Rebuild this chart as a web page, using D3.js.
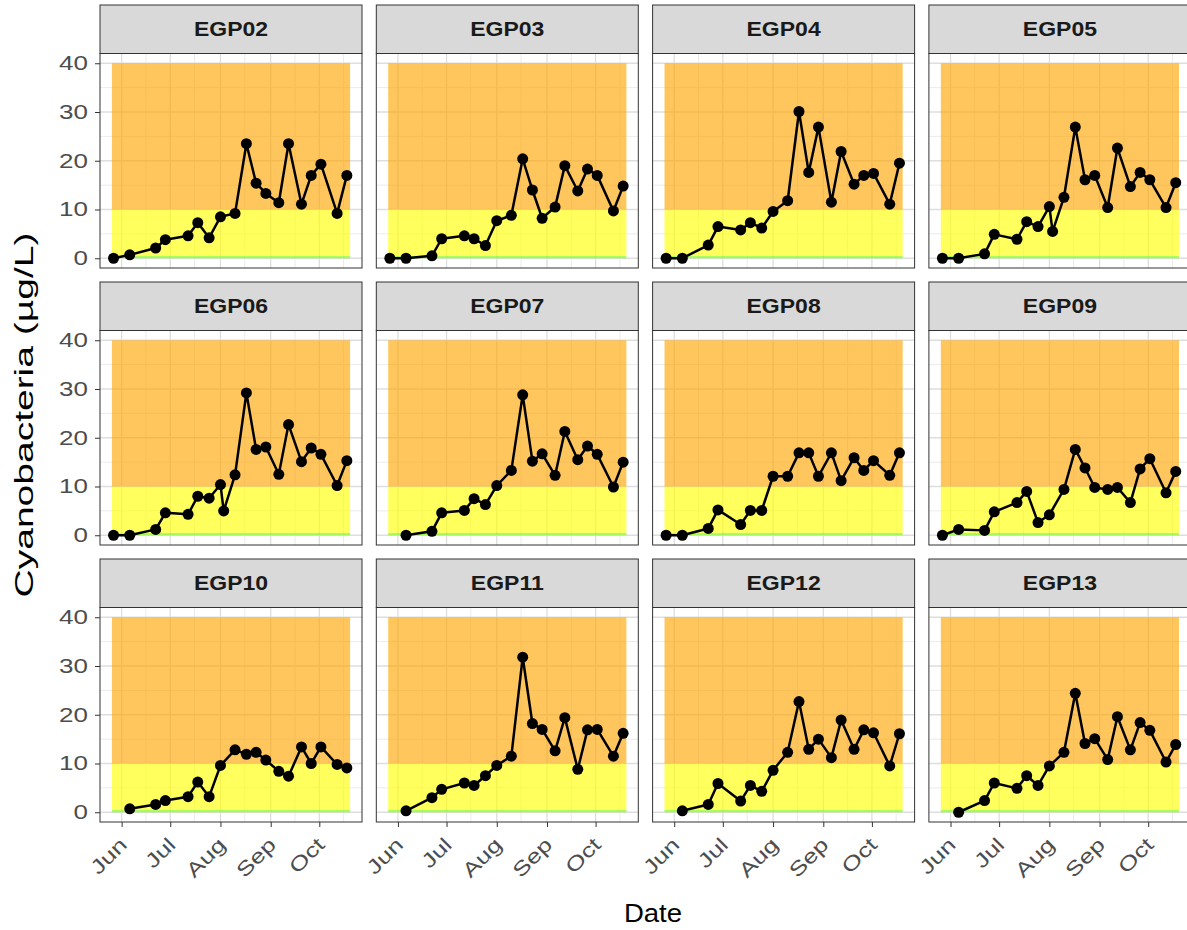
<!DOCTYPE html>
<html>
<head>
<meta charset="utf-8">
<script src="https://cdn.jsdelivr.net/npm/d3@7"></script>
<style>
    body { margin: 0; background: #ffffff; }
    text { font-family: "Liberation Sans", Arial, sans-serif; }
</style>
</head>
<body>
<div id="chart"></div>
<script>

// sites (facets), in reading order
const sites = ["EGP02", "EGP03", "EGP04", "EGP05", "EGP06", "EGP07",
               "EGP08", "EGP09", "EGP10", "EGP11", "EGP12", "EGP13"];

// sampling dates shared by all sites (null = not sampled)
const sampleDates = ["2019-05-27", "2019-06-06", "2019-06-22", "2019-06-28", "2019-07-12",
                     "2019-07-18", "2019-07-25", "2019-08-01", "2019-08-03", "2019-08-10",
                     "2019-08-17", "2019-08-23", "2019-08-29", "2019-09-06", "2019-09-12",
                     "2019-09-20", "2019-09-26", "2019-10-02", "2019-10-12", "2019-10-18"];

// cyanobacteria, ug/L
const egp02 = [0, 0.7, 2.1, 3.8, 4.6, 7.3, 4.2, 8.5, null, 9.2, 23.5, 15.4, 13.3, 11.4, 23.5, 11.1, 17, 19.3, 9.2, 17];
const egp03 = [0, 0, 0.5, 4, 4.6, 4, 2.6, 7.7, null, 8.8, 20.4, 14, 8.2, 10.5, 19, 13.8, 18.3, 17, 9.7, 14.8];
const egp04 = [0, 0, 2.7, 6.5, 5.8, 7.3, 6.2, 9.6, null, 11.8, 30.1, 17.6, 26.9, 11.5, 21.9, 15.2, 17, 17.4, 11.1, 19.5];
const egp05 = [0, 0, 0.9, 4.9, 3.9, 7.5, 6.5, 10.6, 5.5, 12.5, 26.9, 16.1, 17, 10.4, 22.6, 14.7, 17.6, 16.1, 10.4, 15.5];
const egp06 = [0, 0, 1.2, 4.6, 4.3, 8, 7.6, 10.4, 5, 12.4, 29.2, 17.6, 18.1, 12.5, 22.7, 15.1, 17.9, 16.6, 10.2, 15.3];
const egp07 = [null, 0, 0.8, 4.6, 5.1, 7.5, 6.3, 10.2, null, 13.3, 28.8, 15.2, 16.7, 12.3, 21.3, 15.5, 18.3, 16.6, 9.9, 15];
const egp08 = [0, 0, 1.4, 5.2, 2.2, 5.1, 5.1, 12.1, null, 12.1, 16.9, 16.9, 12.1, 16.9, 11.2, 15.9, 13.3, 15.3, 12.3, 16.9];
const egp09 = [0, 1.2, 1.0, 4.8, 6.7, 9, 2.6, 4.2, null, 9.4, 17.6, 13.8, 9.8, 9.4, 9.8, 6.7, 13.6, 15.7, 8.7, 13.1];
const egp10 = [null, 0.7, 1.6, 2.4, 3.2, 6.2, 3.2, 9.6, null, 12.8, 11.9, 12.3, 10.7, 8.4, 7.4, 13.4, 10, 13.4, 9.8, 9.1];
const egp11 = [null, 0.3, 3, 4.7, 6.0, 5.5, 7.5, 9.6, null, 11.5, 31.8, 18.2, 17, 12.6, 19.4, 8.8, 16.9, 17, 11.5, 16.2];
const egp12 = [null, 0.3, 1.6, 5.9, 2.3, 5.5, 4.3, 8.6, null, 12.3, 22.7, 12.9, 15, 11.2, 18.9, 12.9, 16.9, 16.3, 9.5, 16.1];
const egp13 = [null, 0, 2.4, 6, 4.9, 7.5, 5.5, 9.5, null, 12.3, 24.4, 14.1, 15.1, 10.8, 19.6, 12.8, 18.4, 16.8, 10.3, 13.9];

// alert bands (ug/L) and their date span
const bandLimits = [0, 0.5, 10, 40];
const bandSpan = ["2019-05-26", "2019-10-20"];

// axis ticks
const yTicks = [0, 10, 20, 30, 40];
const yMinorTicks = [5, 15, 25, 35];
const monthTicks = ["2019-06-01", "2019-07-01", "2019-08-01", "2019-09-01", "2019-10-01"];
const monthLabels = ["Jun", "Jul", "Aug", "Sep", "Oct"];
const midMonthTicks = ["2019-06-16", "2019-07-16", "2019-08-16", "2019-09-16", "2019-10-16"];


class FacetVis {

    constructor(_parentElement) {
        this.parentElement = _parentElement;
        this.initVis();
    }

    initVis() {
        let vis = this;

        vis.margin = {top: 5, left: 100};
        vis.panelW = 262;
        vis.panelH = 214.5;
        vis.stripH = 48.5;
        vis.gapX = 14.3;
        vis.gapY = 14;

        vis.svg = d3.select("#" + vis.parentElement).append("svg")
            .attr("width", 1187)
            .attr("height", 930);

        vis.parseDate = d3.timeParse("%Y-%m-%d");

        // ggplot style 5% expansion around the band span / 0..40
        let t0 = vis.parseDate(bandSpan[0]), t1 = vis.parseDate(bandSpan[1]);
        let pad = (t1 - t0) * 0.05;
        vis.x = d3.scaleTime()
            .domain([new Date(+t0 - pad), new Date(+t1 + pad)])
            .range([0, vis.panelW]);

        let yPad = (bandLimits[3] - bandLimits[0]) * 0.05;
        vis.y = d3.scaleLinear()
            .domain([bandLimits[0] - yPad, bandLimits[3] + yPad])
            .range([vis.panelH, 0]);

        vis.bandColors = ["#7cfc00", "#ffff00", "#ffa500"];

        vis.line = d3.line()
            .x(d => vis.x(d.date))
            .y(d => vis.y(d.value));

        // axis titles (the source font is drawn wide, hence the scale)
        vis.svg.append("text")
            .attr("transform", "translate(653,922) scale(1.06,1)")
            .attr("text-anchor", "middle")
            .attr("font-size", 26)
            .attr("fill", "#000")
            .text("Date");

        vis.svg.append("text")
            .attr("transform", "translate(33,415) rotate(-90) scale(1.5,1)")
            .attr("text-anchor", "middle")
            .attr("font-size", 26)
            .attr("fill", "#000")
            .text("Cyanobacteria (µg/L)");

        vis.wrangleData();
    }

    wrangleData() {
        let vis = this;

        let values = [egp02, egp03, egp04, egp05, egp06, egp07,
                      egp08, egp09, egp10, egp11, egp12, egp13];

        vis.displayData = sites.map((site, i) => {
            let pts = [];
            sampleDates.forEach((d, j) => {
                if (values[i][j] !== null) {
                    pts.push({date: vis.parseDate(d), value: values[i][j]});
                }
            });
            return {site: site, points: pts};
        });

        vis.updateVis();
    }

    updateVis() {
        let vis = this;

        let bands = [];
        for (let k = 0; k < bandLimits.length - 1; k++) {
            bands.push({lo: bandLimits[k], hi: bandLimits[k + 1], color: vis.bandColors[k]});
        }
        let bx0 = vis.x(vis.parseDate(bandSpan[0])), bx1 = vis.x(vis.parseDate(bandSpan[1]));

        vis.displayData.forEach((facet, i) => {
            let col = i % 4, row = Math.floor(i / 4);
            let g = vis.svg.append("g")
                .attr("transform", "translate(" + (vis.margin.left + col * (vis.panelW + vis.gapX)) + ","
                    + (vis.margin.top + row * (vis.stripH + vis.panelH + vis.gapY)) + ")");

            // strip
            g.append("rect")
                .attr("width", vis.panelW)
                .attr("height", vis.stripH)
                .attr("fill", "#d9d9d9")
                .attr("stroke", "#333")
                .attr("stroke-width", 1);

            g.append("text")
                .attr("transform", "translate(" + (vis.panelW / 2) + "," + (vis.stripH / 2) + ") scale(1.15,1)")
                .attr("dy", "0.36em")
                .attr("text-anchor", "middle")
                .attr("font-size", 20)
                .attr("font-weight", "bold")
                .attr("fill", "#1a1a1a")
                .text(facet.site);

            let p = g.append("g").attr("transform", "translate(0," + vis.stripH + ")");

            p.append("rect")
                .attr("width", vis.panelW)
                .attr("height", vis.panelH)
                .attr("fill", "#fff");

            // grid
            p.selectAll(".vminor").data(midMonthTicks).enter().append("line")
                .attr("x1", d => vis.x(vis.parseDate(d))).attr("x2", d => vis.x(vis.parseDate(d)))
                .attr("y1", 0).attr("y2", vis.panelH)
                .attr("stroke", "#ebebeb").attr("stroke-width", 1);
            p.selectAll(".hminor").data(yMinorTicks).enter().append("line")
                .attr("x1", 0).attr("x2", vis.panelW)
                .attr("y1", d => vis.y(d)).attr("y2", d => vis.y(d))
                .attr("stroke", "#ebebeb").attr("stroke-width", 1);
            p.selectAll(".vmajor").data(monthTicks).enter().append("line")
                .attr("x1", d => vis.x(vis.parseDate(d))).attr("x2", d => vis.x(vis.parseDate(d)))
                .attr("y1", 0).attr("y2", vis.panelH)
                .attr("stroke", "#dedede").attr("stroke-width", 1.3);
            p.selectAll(".hmajor").data(yTicks).enter().append("line")
                .attr("x1", 0).attr("x2", vis.panelW)
                .attr("y1", d => vis.y(d)).attr("y2", d => vis.y(d))
                .attr("stroke", "#dedede").attr("stroke-width", 1.3);

            // alert bands
            p.selectAll(".band").data(bands).enter().append("rect")
                .attr("x", bx0)
                .attr("width", bx1 - bx0)
                .attr("y", d => vis.y(d.hi))
                .attr("height", d => vis.y(d.lo) - vis.y(d.hi))
                .attr("fill", d => d.color)
                .attr("fill-opacity", 0.63);

            // series
            p.append("path")
                .datum(facet.points)
                .attr("d", vis.line)
                .attr("fill", "none")
                .attr("stroke", "#000")
                .attr("stroke-width", 2.5)
                .attr("stroke-linejoin", "round");

            p.selectAll(".pt").data(facet.points).enter().append("circle")
                .attr("cx", d => vis.x(d.date))
                .attr("cy", d => vis.y(d.value))
                .attr("r", 5.5)
                .attr("fill", "#000");

            p.append("rect")
                .attr("width", vis.panelW)
                .attr("height", vis.panelH)
                .attr("fill", "none")
                .attr("stroke", "#333")
                .attr("stroke-width", 1);

            // axes
            if (col === 0) {
                let ya = p.append("g")
                    .call(d3.axisLeft(vis.y).tickValues(yTicks).tickSize(5));
                ya.select(".domain").remove();
                ya.selectAll(".tick line").attr("stroke", "#333");
                ya.selectAll(".tick text")
                    .attr("x", 0)
                    .attr("transform", "translate(-12,0) scale(1.3,1)")
                    .attr("font-size", 20)
                    .attr("font-family", "Liberation Sans, Arial, sans-serif")
                    .attr("fill", "#4d4d4d");
            }
            if (row === 2) {
                let xa = p.append("g")
                    .attr("transform", "translate(0," + vis.panelH + ")")
                    .call(d3.axisBottom(vis.x)
                        .tickValues(monthTicks.map(vis.parseDate))
                        .tickFormat((d, k) => monthLabels[k])
                        .tickSize(5));
                xa.select(".domain").remove();
                xa.selectAll(".tick line").attr("stroke", "#333");
                xa.selectAll(".tick text")
                    .attr("font-size", 20)
                    .attr("font-family", "Liberation Sans, Arial, sans-serif")
                    .attr("fill", "#4d4d4d")
                    .attr("text-anchor", "end")
                    .attr("y", 0)
                    .attr("dy", "0.71em")
                    .attr("transform", "translate(-4,14) rotate(-45) scale(1.3,1)");
            }
        });
    }
}

new FacetVis("chart");

</script>
</body>
</html>
